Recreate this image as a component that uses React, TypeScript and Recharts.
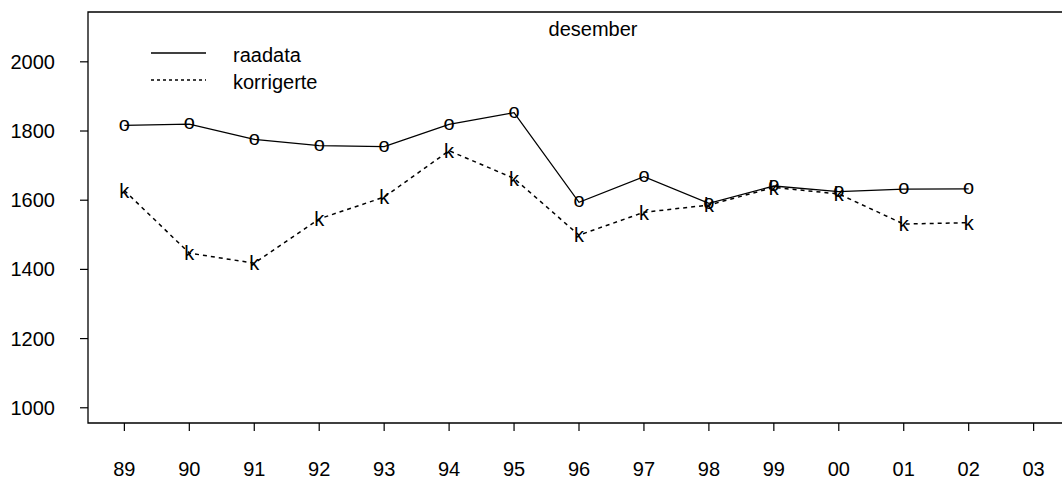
import React from 'react';
import { LineChart, Line, XAxis, YAxis, ReferenceArea } from 'recharts';

// year labels on the x axis (index 0..14)
const years = ['89', '90', '91', '92', '93', '94', '95', '96', '97', '98', '99', '00', '01', '02', '03'];
const raadata = [1816, 1820, 1776, 1758, 1755, 1819, 1853, 1594, 1668, 1591, 1641, 1625, 1632, 1633];
const korrigerte = [1628, 1447, 1418, 1546, 1609, 1743, 1663, 1499, 1565, 1586, 1637, 1618, 1531, 1535];
const yTicks = [1000, 1200, 1400, 1600, 1800, 2000];

const X_DOMAIN: [number, number] = [-0.56, 14.56];
const Y_DOMAIN: [number, number] = [956, 2144];

const FONT = '"Liberation Sans", Arial, Helvetica, sans-serif';
const FS = 20;

const data = years.map((label, i) => ({
  i,
  label,
  raw: raadata[i] ?? null,
  korr: korrigerte[i] ?? null,
}));

// R-style character plotting symbols, centred on the glyph
const charDot = (ch: string, lift: number) => (props: any) => {
  const { cx, cy, index } = props;
  if (cx == null || cy == null || props.value == null) return <g key={`${ch}-${index}`} />;
  return (
    <text
      key={`${ch}-${index}`}
      x={cx}
      y={cy + lift * FS}
      textAnchor="middle"
      fontFamily={FONT}
      fontSize={FS}
      fill="#000"
    >
      {ch}
    </text>
  );
};

export default function App() {
  return (
    <div style={{ position: 'absolute', left: 0, top: 0, width: 1062, height: 480, overflow: 'hidden', background: '#fff' }}>
      <LineChart width={1072} height={480} data={data} margin={{ top: 12, right: 2, bottom: 0, left: 0 }}>
        <XAxis
          dataKey="i"
          type="number"
          domain={X_DOMAIN}
          ticks={years.map((_, i) => i)}
          tickFormatter={(v) => years[v]}
          allowDataOverflow
          height={57}
          axisLine={false}
          tickSize={8}
          tickMargin={31}
          tickLine={{ stroke: '#000', strokeWidth: 1.2 }}
          tick={{ fill: '#000', fontSize: FS, fontFamily: FONT }}
        />
        <YAxis
          type="number"
          domain={Y_DOMAIN}
          ticks={yTicks}
          allowDataOverflow
          width={88}
          axisLine={false}
          tickSize={8}
          tickMargin={25}
          tickLine={{ stroke: '#000', strokeWidth: 1.2 }}
          tick={{ fill: '#000', fontSize: FS, fontFamily: FONT }}
        />
        <ReferenceArea
          x1={X_DOMAIN[0]}
          x2={X_DOMAIN[1]}
          y1={Y_DOMAIN[0]}
          y2={Y_DOMAIN[1]}
          fill="none"
          stroke="#000"
          strokeWidth={1.3}
          ifOverflow="visible"
        />
        <Line
          dataKey="raw"
          stroke="#000"
          strokeWidth={1.3}
          dot={charDot('o', 0.26)}
          activeDot={false}
          isAnimationActive={false}
        />
        <Line
          dataKey="korr"
          stroke="#000"
          strokeWidth={1.5}
          strokeDasharray="4 4"
          dot={charDot('k', 0.36)}
          activeDot={false}
          isAnimationActive={false}
        />
      </LineChart>
      <svg width={1062} height={480} style={{ position: 'absolute', left: 0, top: 0, pointerEvents: 'none' }}>
        <text x={593} y={36} textAnchor="middle" fontFamily={FONT} fontSize={FS} fill="#000">
          desember
        </text>
        <line x1={151} x2={206} y1={53} y2={53} stroke="#000" strokeWidth={1.3} />
        <text x={233} y={61.5} fontFamily={FONT} fontSize={FS} fill="#000">
          raadata
        </text>
        <line x1={151} x2={206} y1={80} y2={80} stroke="#000" strokeWidth={1.5} strokeDasharray="3 3" />
        <text x={233} y={88.5} fontFamily={FONT} fontSize={FS} fill="#000">
          korrigerte
        </text>
      </svg>
    </div>
  );
}
